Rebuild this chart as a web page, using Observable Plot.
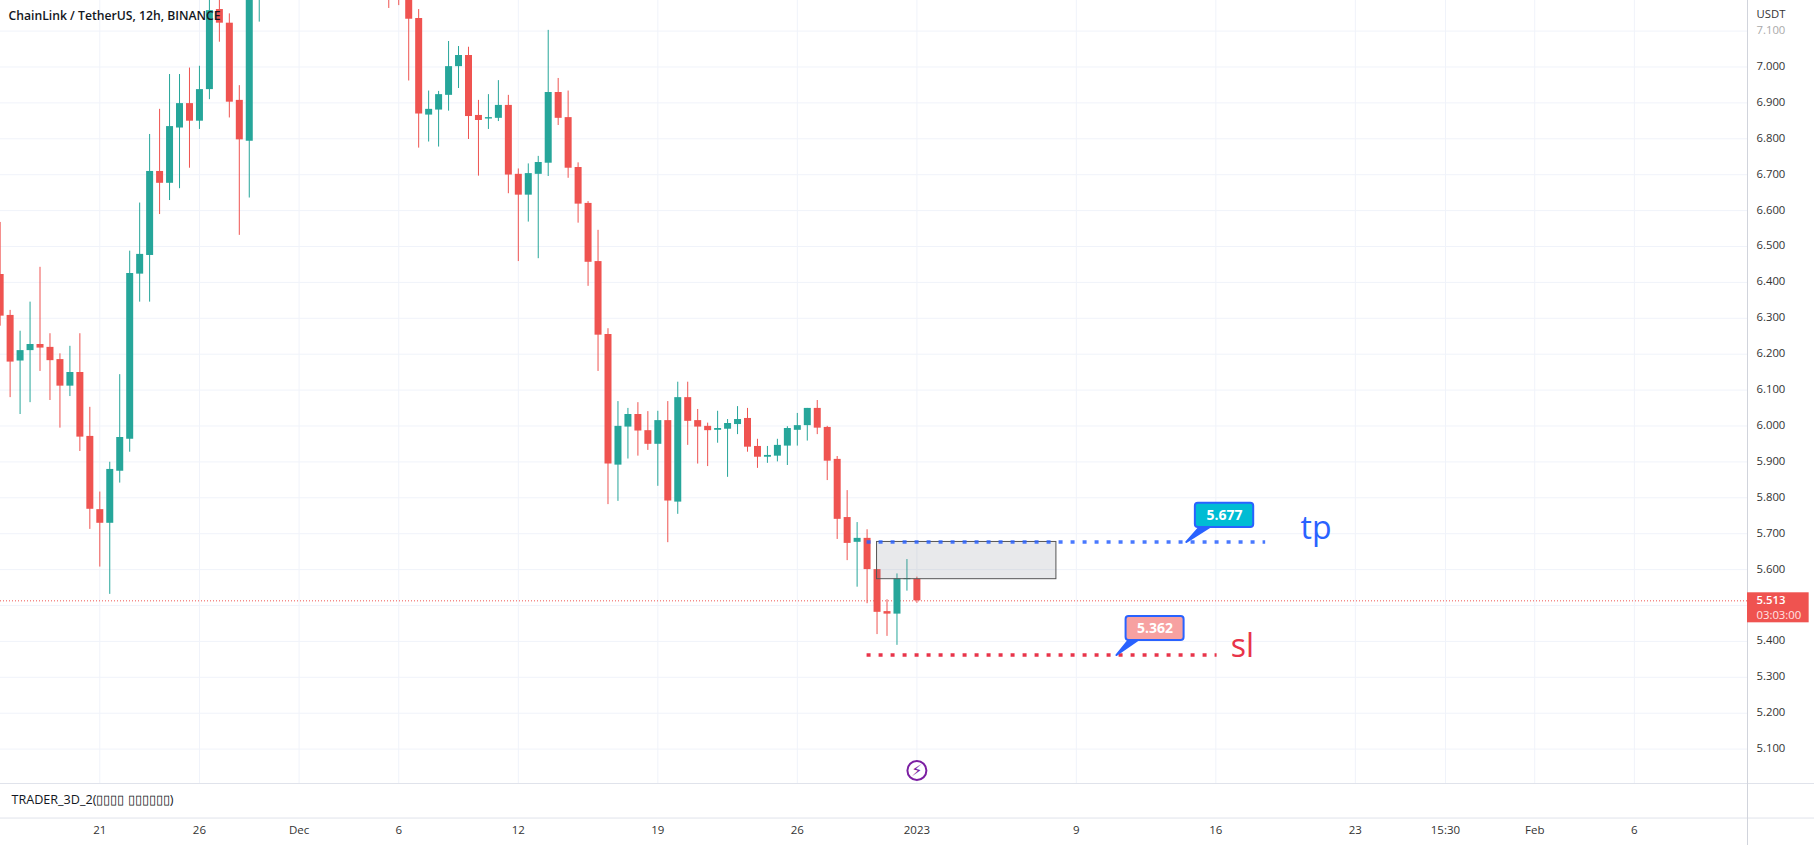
<!DOCTYPE html>
<html>
<head>
<meta charset="utf-8">
<script src="https://cdn.jsdelivr.net/npm/d3@7"></script>
<script src="https://cdn.jsdelivr.net/npm/@observablehq/plot@0.6"></script>
<style>
html,body{margin:0;padding:0;background:#fff;overflow:hidden}
svg{display:block}
</style>
</head>
<body>
<div id="chart"></div>
<script>
// half-day bar numbers counted from 2022-11-16 00:00 UTC (bars 27-38 lie entirely above the view)
const barNumber = [0,1,2,3,4,5,6,7,8,9,10,11,12,13,14,15,16,17,18,19,20,21,22,23,24,25,26,
  39,40,41,42,43,44,45,46,47,48,49,50,51,52,53,54,55,56,57,58,59,60,61,62,63,64,65,66,67,68,69,
  70,71,72,73,74,75,76,77,78,79,80,81,82,83,84,85,86,87,88,89,90,91,92];
const opens = [6.422,6.308,6.181,6.210,6.227,6.219,6.185,6.111,6.149,5.971,5.767,5.729,5.874,5.963,6.423,6.475,6.709,6.676,6.830,6.898,6.849,6.937,7.160,7.122,6.907,6.793,7.26,
  7.35,7.30,7.24,7.135,6.866,6.880,6.921,7.001,7.032,6.865,6.855,6.857,6.893,6.701,6.643,6.701,6.732,6.929,6.859,6.720,6.620,6.458,6.255,5.891,5.997,6.032,5.987,5.949,6.015,5.788,6.079,
  6.015,5.999,5.988,5.991,6.004,6.021,5.943,5.913,5.916,5.944,5.988,6.001,6.049,5.996,5.907,5.745,5.676,5.687,5.600,5.483,5.476,5.572,5.573];
const highs = [6.567,6.322,6.264,6.345,6.442,6.257,6.201,6.222,6.257,6.052,5.816,5.899,6.143,6.487,6.621,6.812,6.882,6.979,6.979,6.997,7.002,7.23,7.22,7.148,6.948,7.40,7.45,
  7.50,7.40,7.32,7.160,6.933,6.932,7.071,7.057,7.055,6.907,6.923,6.962,6.921,6.716,6.730,6.751,7.102,6.968,6.933,6.733,6.625,6.545,6.271,6.068,6.049,6.065,6.040,6.041,6.068,6.122,6.122,
  6.046,6.008,6.041,6.018,6.054,6.049,5.963,5.943,5.963,5.998,6.035,6.049,6.071,5.999,5.915,5.820,5.731,5.711,5.600,5.516,5.588,5.628,5.579];
const lows = [6.278,6.079,6.032,6.065,6.152,6.071,5.994,6.082,5.929,5.712,5.607,5.531,5.841,5.927,6.345,6.345,6.589,6.628,6.661,6.718,6.826,6.909,7.069,6.858,6.531,6.635,7.125,
  7.163,7.171,6.961,6.774,6.791,6.777,6.877,6.940,6.798,6.696,6.826,6.848,6.647,6.458,6.568,6.466,6.695,6.837,6.690,6.565,6.389,6.152,5.781,5.790,5.908,5.916,5.932,5.832,5.675,5.754,5.946,
  5.894,5.887,5.952,5.857,5.976,5.927,5.882,5.896,5.900,5.890,5.944,5.958,5.976,5.848,5.684,5.625,5.551,5.505,5.419,5.414,5.389,5.540,5.506];
const closes = [6.306,6.178,6.210,6.227,6.217,6.182,6.111,6.149,5.969,5.768,5.729,5.879,5.968,6.425,6.478,6.709,6.676,6.834,6.898,6.849,6.937,7.157,7.122,6.902,6.797,7.30,7.36,
  7.25,7.22,7.133,6.869,6.882,6.923,7.001,7.032,6.862,6.851,6.859,6.893,6.699,6.643,6.703,6.734,6.929,6.857,6.718,6.618,6.456,6.253,5.894,5.999,6.032,5.986,5.949,6.015,5.791,6.079,6.013,
  5.997,5.987,5.993,6.007,6.018,5.941,5.913,5.918,5.946,5.993,6.001,6.049,5.994,5.902,5.740,5.673,5.687,5.600,5.481,5.476,5.574,5.575,5.513];

const priceTicks = [7.0,6.9,6.8,6.7,6.6,6.5,6.4,6.3,6.2,6.1,6.0,5.9,5.8,5.7,5.6,5.4,5.3,5.2,5.1];
const gridPrices = [7.1,...priceTicks,5.5];
const timeTicks = ["2022-11-21","2022-11-26","2022-12-01","2022-12-06","2022-12-12","2022-12-19","2022-12-26","2023-01-01","2023-01-09","2023-01-16","2023-01-23","2023-01-27T12:30","2023-02-01","2023-02-06"];
const timeLabels = ["21","26","Dec","6","12","19","26","2023","9","16","23","15:30","Feb","6"];

const lastPrice = 5.513;
const tpPrice = 5.677;
const slPrice = 5.362;

const utc = s => new Date((s.length === 10 ? s + "T00:00" : s) + "Z");
const dayMs = 864e5;
const start = utc("2022-11-16");
const bars = barNumber.map((n, i) => ({
  t: new Date(+start + n * dayMs / 2),
  open: opens[i], high: highs[i], low: lows[i], close: closes[i],
  color: closes[i] >= opens[i] ? "#26a69a" : "#ef5350"
}));
const tickDates = timeTicks.map(utc);
const labelOf = new Map(tickDates.map((d, i) => [+d, timeLabels[i]]));

const xLeft = utc("2022-11-16T00:25");
const xRight = utc("2023-02-11T16:15");
const xEdge = utc("2023-02-16T00:00");
const yTop = 7.1852, yBottom = 5.0042, yEdge = 4.8;
const priceFont = "'Open Sans', sans-serif";
const grid = "#f0f3fa";
const blue = "#2962ff";
const red = "#e8344a";

const fmt = d3.format(".3f");

const tpTail = [
  {t: utc("2023-01-14T12:30"), p: tpPrice},
  {t: utc("2023-01-15T04:00"), p: 5.7173},
  {t: utc("2023-01-15T16:00"), p: 5.7173},
  {t: utc("2023-01-14T12:30"), p: tpPrice}
];
const slTail = [
  {t: utc("2023-01-11T00:15"), p: slPrice},
  {t: utc("2023-01-11T14:40"), p: 5.4025},
  {t: utc("2023-01-12T01:30"), p: 5.4025},
  {t: utc("2023-01-11T00:15"), p: slPrice}
];

const plot = Plot.plot({
  width: 1814, height: 845,
  marginLeft: 0, marginRight: 67, marginTop: 0, marginBottom: 62,
  style: {background: "#fff", fontFamily: priceFont, color: "#333"},
  x: {type: "utc", domain: [xLeft, xRight]},
  y: {domain: [yBottom, yTop]},
  marks: [
    // grid
    Plot.gridX(tickDates, {stroke: grid, strokeOpacity: 1}),
    Plot.gridY(gridPrices, {stroke: grid, strokeOpacity: 1}),
    // pane separators
    Plot.ruleY([yBottom, 4.908], {x1: xLeft, x2: xEdge, stroke: "#e0e3eb"}),
    Plot.ruleX([xRight], {y1: yTop, y2: yEdge, stroke: "#d1d4dc"}),
    // last price line
    Plot.ruleY([lastPrice], {stroke: "#ef5350", strokeDasharray: "1 2", strokeWidth: 1}),
    // candles
    Plot.ruleX(bars, {x: "t", y1: "low", y2: "high", stroke: "color", strokeWidth: 1}),
    Plot.ruleX(bars, {x: "t", y1: "open", y2: "close", stroke: "color", strokeWidth: 7}),
    // zone rectangle
    Plot.rect([{x1: utc("2022-12-30"), x2: utc("2023-01-08")}], {
      x1: "x1", x2: "x2", y1: 5.5733, y2: tpPrice,
      fill: "#787b86", fillOpacity: 0.17, stroke: "#555", strokeWidth: 1
    }),
    // tp / sl lines
    Plot.ruleY([tpPrice], {x1: utc("2022-12-29T12:00"), x2: utc("2023-01-18T12:00"), stroke: blue, strokeWidth: 3.5, strokeDasharray: "4 8", strokeOpacity: 0.85}),
    Plot.ruleY([slPrice], {x1: utc("2022-12-29T12:00"), x2: utc("2023-01-16T01:30"), stroke: red, strokeWidth: 3.5, strokeDasharray: "4 8"}),
    // callouts
    Plot.line(tpTail, {x: "t", y: "p", stroke: blue, fill: blue, strokeWidth: 2}),
    Plot.rect([0], {x1: utc("2023-01-14T23:20"), x2: utc("2023-01-17T21:36"), y1: 5.7173, y2: 5.785, fill: "#00bcd4", stroke: blue, strokeWidth: 2, rx: 3}),
    Plot.text(["5.677"], {x: utc("2023-01-16T10:30"), y: 5.751, fill: "#fff", fontWeight: 700, fontSize: 14}),
    Plot.line(slTail, {x: "t", y: "p", stroke: blue, fill: blue, strokeWidth: 2}),
    Plot.rect([0], {x1: utc("2023-01-11T11:54"), x2: utc("2023-01-14T09:46"), y1: 5.4025, y2: 5.4694, fill: "#f7a1a1", stroke: blue, strokeWidth: 2, rx: 3}),
    Plot.text(["5.362"], {x: utc("2023-01-12T22:50"), y: 5.436, fill: "#fff", fontWeight: 700, fontSize: 14}),
    Plot.text(["tp"], {x: utc("2023-01-20T06:00"), y: 5.685, textAnchor: "start", lineAnchor: "bottom", fill: blue, fontSize: 32}),
    Plot.text(["sl"], {x: utc("2023-01-16T18:00"), y: 5.357, textAnchor: "start", lineAnchor: "bottom", fill: red, fontSize: 32}),
    // flash marker
    Plot.dot([0], {x: utc("2023-01-01"), y: 5.0404, r: 9.5, stroke: "#7b1fa2", strokeWidth: 2, fill: "#fff"}),
    Plot.text(["⚡"], {x: utc("2023-01-01"), y: 5.0404, fill: "#7b1fa2", fontSize: 16, fontFamily: "'DejaVu Sans'"}),
    // axes
    Plot.axisY(priceTicks, {anchor: "right", tickSize: 0, tickPadding: 9, dy: -0.7, tickFormat: fmt, label: null, fill: "#333", fontSize: 11.3}),
    Plot.axisY([7.1], {anchor: "right", tickSize: 0, tickPadding: 9, dy: -0.7, tickFormat: fmt, label: null, fill: "#aaa", fontSize: 11.3}),
    Plot.axisX(tickDates, {anchor: "bottom", tickSize: 0, tickPadding: 42, tickFormat: d => labelOf.get(+d), label: null, fill: "#333", fontSize: 11.5}),
    Plot.text(["USDT"], {frameAnchor: "top-right", dx: 9, dy: 9, textAnchor: "start", fill: "#333", fontSize: 11.3}),
    // last price tag
    Plot.rect([0], {x1: xRight, x2: utc("2023-02-14T18:30"), y1: 5.4518, y2: 5.5354, fill: "#ef5350"}),
    Plot.text(["5.513"], {x: xRight, y: lastPrice, dx: 9, textAnchor: "start", fill: "#fff", fontSize: 11.3, fontWeight: 600}),
    Plot.text(["03:03:00"], {x: xRight, y: 5.4729, dx: 9, textAnchor: "start", fill: "#ffe4e4", fontSize: 11.3}),
    // titles
    Plot.text(["ChainLink / TetherUS, 12h, BINANCE"], {frameAnchor: "top-left", dx: 8, dy: 11, textAnchor: "start", fill: "#131722", fontSize: 12.2, fontWeight: 600}),
    Plot.text(["TRADER_3D_2(▯▯▯▯ ▯▯▯▯▯▯)"], {frameAnchor: "bottom-left", dx: 11, dy: 20, textAnchor: "start", fill: "#131722", fontSize: 12.6})
  ]
});
document.getElementById("chart").append(plot);
</script>
</body>
</html>
